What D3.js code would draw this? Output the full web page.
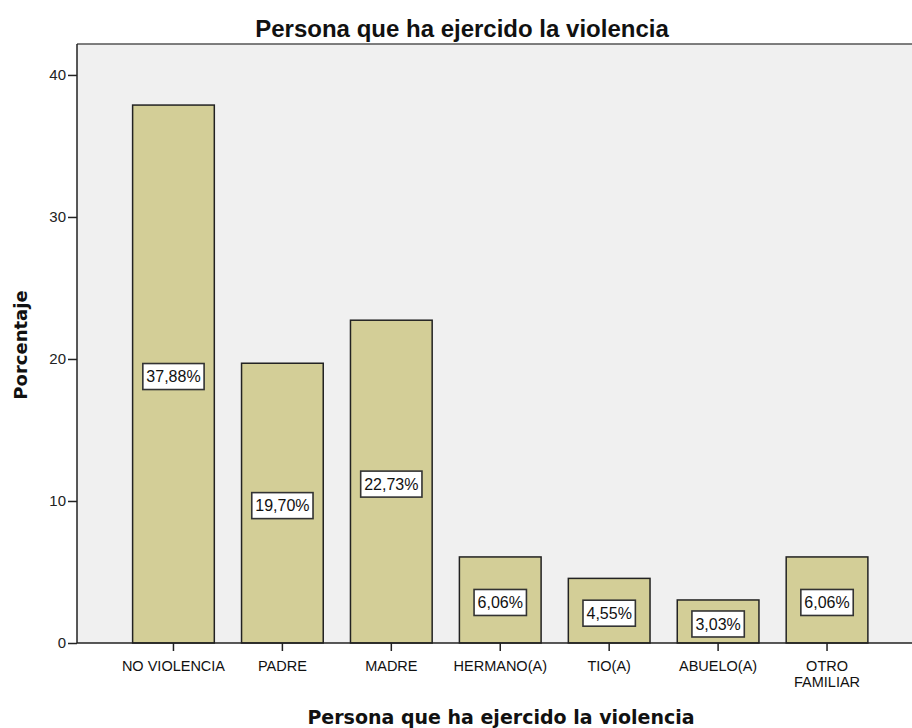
<!DOCTYPE html>
<html><head><meta charset="utf-8">
<script src="https://cdn.jsdelivr.net/npm/d3@7"></script>
<style>body{margin:0;background:#fff;}svg{display:block;}</style>
</head><body>
<script>
const categories = ["NO VIOLENCIA","PADRE","MADRE","HERMANO(A)","TIO(A)","ABUELO(A)","OTRO FAMILIAR"];
const categoryLines = [["NO VIOLENCIA"],["PADRE"],["MADRE"],["HERMANO(A)"],["TIO(A)"],["ABUELO(A)"],["OTRO","FAMILIAR"]];
const values = [37.88, 19.70, 22.73, 6.06, 4.55, 3.03, 6.06];
const valueLabels = ["37,88%","19,70%","22,73%","6,06%","4,55%","3,03%","6,06%"];
const yTicks = [0, 10, 20, 30, 40];
const title = "Persona que ha ejercido la violencia";
const xTitle = "Persona que ha ejercido la violencia";
const yTitle = "Porcentaje";

const W = 912, H = 728;
const plot = {left: 77, top: 44, right: 912, bottom: 643};

const svg = d3.select("body").append("svg").attr("width", W).attr("height", H);

const x = d3.scaleBand().domain(categories).range([119, 881.5]).paddingInner(0.25).paddingOuter(0.125);
const y = d3.scaleLinear().domain([0, 42.18]).range([plot.bottom, plot.top]);

// plot background
svg.append("rect").attr("x", plot.left).attr("y", plot.top)
  .attr("width", plot.right - plot.left).attr("height", plot.bottom - plot.top)
  .attr("fill", "#f0f0f0");
// top frame line
svg.append("line").attr("x1", plot.left).attr("x2", plot.right).attr("y1", plot.top).attr("y2", plot.top)
  .attr("stroke", "#555").attr("stroke-width", 1.5);

// bars
const data = categories.map((c, i) => ({c, v: values[i], lab: valueLabels[i], lines: categoryLines[i]}));
svg.append("g").selectAll("rect").data(data).join("rect")
  .attr("x", d => x(d.c)).attr("y", d => y(d.v))
  .attr("width", x.bandwidth()).attr("height", d => y(0) - y(d.v))
  .attr("fill", "#d3ce97").attr("stroke", "#222").attr("stroke-width", 1.5);

// value label boxes
const lg = svg.append("g").selectAll("g").data(data).join("g")
  .attr("transform", d => `translate(${x(d.c) + x.bandwidth()/2},${(y(d.v) + y(0))/2 + 2.5})`);
lg.append("text").attr("text-anchor", "middle").attr("dy", "0.36em")
  .attr("font-family", "Liberation Sans, Arial, sans-serif").attr("font-size", 16).attr("fill", "#111")
  .text(d => d.lab);
lg.each(function() {
  const g = d3.select(this);
  const bb = g.select("text").node().getBBox();
  g.insert("rect", "text").attr("x", bb.x - 3.5).attr("y", -13).attr("width", bb.width + 7).attr("height", 26)
    .attr("fill", "#fff").attr("stroke", "#333").attr("stroke-width", 1.6);
});

// y axis
const yAxis = svg.append("g").attr("transform", `translate(${plot.left},0)`)
  .call(d3.axisLeft(y).tickValues(yTicks).tickSize(9).tickPadding(2).tickSizeOuter(0));
yAxis.select(".domain").remove();
yAxis.append("line").attr("x1", 0).attr("x2", 0).attr("y1", plot.top).attr("y2", plot.bottom)
  .attr("stroke", "#222").attr("stroke-width", 1.5);
yAxis.selectAll(".tick line").attr("stroke", "#222").attr("stroke-width", 1.5);
yAxis.selectAll(".tick text").attr("font-family", "Liberation Sans, Arial, sans-serif")
  .attr("font-size", 15).attr("fill", "#222");

// x axis
const xAxis = svg.append("g").attr("transform", `translate(0,${plot.bottom})`)
  .call(d3.axisBottom(x).tickSize(8).tickFormat(""));
xAxis.select(".domain").remove();
xAxis.append("line").attr("x1", plot.left).attr("x2", plot.right).attr("y1", 0).attr("y2", 0)
  .attr("stroke", "#222").attr("stroke-width", 1.5);
xAxis.selectAll(".tick line").attr("stroke", "#222").attr("stroke-width", 1.5);
xAxis.selectAll(".tick").each(function(c, i) {
  const t = d3.select(this).append("text").attr("text-anchor", "middle")
    .attr("font-family", "Liberation Sans, Arial, sans-serif").attr("font-size", 14.5).attr("fill", "#111");
  categoryLines[i].forEach((ln, j) => {
    t.append("tspan").attr("x", 0).attr("y", 28 + j * 15.5).text(ln);
  });
});

// titles
svg.append("text").attr("x", 462).attr("y", 37).attr("text-anchor", "middle")
  .attr("font-family", "Liberation Sans, Arial, sans-serif").attr("font-weight", "bold")
  .attr("font-size", 24).attr("fill", "#111").text(title);
svg.append("text").attr("x", 501).attr("y", 724).attr("text-anchor", "middle")
  .attr("font-family", "DejaVu Sans, sans-serif").attr("font-weight", "bold")
  .attr("font-size", 19).attr("fill", "#111").text(xTitle);
svg.append("text").attr("transform", "translate(27,345) rotate(-90)").attr("text-anchor", "middle")
  .attr("font-family", "DejaVu Sans, sans-serif").attr("font-weight", "bold")
  .attr("font-size", 18).attr("fill", "#111").text(yTitle);
</script>
</body></html>
